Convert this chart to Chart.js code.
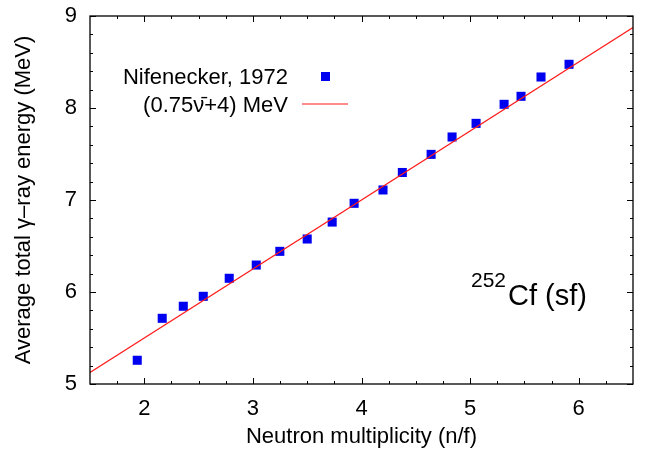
<!DOCTYPE html>
<html>
<head>
<meta charset="utf-8">
<script src="https://cdn.jsdelivr.net/npm/chart.js@4.4.1/dist/chart.umd.min.js"></script>
<style>
html,body{margin:0;padding:0;background:#fff;}
#wrap{width:648px;height:451px;}
</style>
</head>
<body>
<div id="wrap"><canvas id="c" width="648" height="451"></canvas></div>
<script>
// ---- data ----
const nuValues = [1.935, 2.165, 2.359, 2.543, 2.782, 3.031, 3.248, 3.500, 3.730, 3.932, 4.198, 4.376, 4.641, 4.834, 5.055, 5.313, 5.469, 5.653, 5.911];
const egValues = [5.258, 5.714, 5.845, 5.953, 6.149, 6.293, 6.442, 6.576, 6.760, 6.964, 7.109, 7.299, 7.496, 7.685, 7.833, 8.040, 8.127, 8.337, 8.475];
const fitX = [1.5, 6.5];
const fitY = [5.125, 8.875];
const xMajorTicks = [2, 3, 4, 5, 6];
const xMinorTicks = [1.75, 2.25, 2.5, 2.75, 3.25, 3.5, 3.75, 4.25, 4.5, 4.75, 5.25, 5.5, 5.75, 6.25];
const yMajorTicks = [5, 6, 7, 8, 9];
const yMinorTicks = [5.2, 5.4, 5.6, 5.8, 6.2, 6.4, 6.6, 6.8, 7.2, 7.4, 7.6, 7.8, 8.2, 8.4, 8.6, 8.8];
const seriesLabels = ['Nifenecker, 1972', '(0.75\u03BD\u0304+4) MeV'];
const xTitle = 'Neutron multiplicity (n/f)';
const yTitle = 'Average total \u03B3\u2013ray energy (MeV)';
const noteSup = '252';
const noteMain = 'Cf (sf)';

const FONT = '"Liberation Sans", Arial, Helvetica, sans-serif';
const BLUE = '#0000f0';
const RED = '#ff1a1a';

const framePlugin = {
  id: 'frameTicks',
  afterDatasetsDraw(chart) {
    const {ctx, chartArea: a, scales: {x, y}} = chart;
    ctx.save();
    ctx.strokeStyle = '#000';
    ctx.lineWidth = 1;
    const tick = (vals, len) => {
      vals.forEach(v => {
        const px = Math.round(x.getPixelForValue(v)) + 0.5;
        ctx.beginPath();
        ctx.moveTo(px, a.bottom); ctx.lineTo(px, a.bottom - len);
        ctx.moveTo(px, a.top); ctx.lineTo(px, a.top + len);
        ctx.stroke();
      });
    };
    const tickY = (vals, len) => {
      vals.forEach(v => {
        const py = Math.round(y.getPixelForValue(v)) + 0.5;
        ctx.beginPath();
        ctx.moveTo(a.left, py); ctx.lineTo(a.left + len, py);
        ctx.moveTo(a.right, py); ctx.lineTo(a.right - len, py);
        ctx.stroke();
      });
    };
    tick(xMajorTicks, 6); tick(xMinorTicks, 3);
    tickY(yMajorTicks, 6); tickY(yMinorTicks, 3);
    ctx.lineWidth = 1.3;
    ctx.strokeRect(a.left, a.top, a.right - a.left, a.bottom - a.top);

    // legend
    ctx.fillStyle = '#000';
    ctx.font = '22px ' + FONT;
    ctx.textAlign = 'right';
    ctx.textBaseline = 'alphabetic';
    ctx.fillText(seriesLabels[0], 288, 84);
    ctx.fillText(seriesLabels[1], 288, 112);
    ctx.fillStyle = BLUE;
    ctx.fillRect(321, 72, 9, 9);
    ctx.strokeStyle = RED;
    ctx.lineWidth = 1.2;
    ctx.beginPath();
    ctx.moveTo(302, 104); ctx.lineTo(348, 104);
    ctx.stroke();

    // annotation
    ctx.fillStyle = '#000';
    ctx.textAlign = 'left';
    ctx.font = '21px ' + FONT;
    ctx.fillText(noteSup, 471, 287);
    ctx.font = '29px ' + FONT;
    ctx.fillText(noteMain, 508, 305);
    ctx.restore();
  }
};

new Chart(document.getElementById('c'), {
  data: {
    datasets: [
      {
        type: 'line',
        label: seriesLabels[1],
        data: fitX.map((v, i) => ({x: v, y: fitY[i]})),
        borderColor: RED,
        borderWidth: 1.2,
        pointRadius: 0,
        fill: false
      },
      {
        type: 'scatter',
        label: seriesLabels[0],
        data: nuValues.map((v, i) => ({x: v, y: egValues[i]})),
        pointStyle: 'rect',
        pointRadius: 6.4,
        pointHoverRadius: 6.4,
        backgroundColor: BLUE,
        borderColor: BLUE,
        borderWidth: 0
      }
    ]
  },
  options: {
    responsive: false,
    animation: false,
    devicePixelRatio: 1,
    layout: {padding: {top: 16, right: 15, left: 0, bottom: 0}},
    plugins: {legend: {display: false}, tooltip: {enabled: false}},
    scales: {
      x: {
        type: 'linear',
        min: 1.5, max: 6.5,
        afterBuildTicks: s => { s.ticks = xMajorTicks.map(v => ({value: v})); },
        afterFit: s => { s.height = 67; s.paddingLeft = 0; s.paddingRight = 0; },
        grid: {display: false, drawTicks: false},
        border: {display: false},
        ticks: {color: '#000', font: {family: FONT, size: 22}, padding: 12, maxRotation: 0, autoSkip: false},
        title: {display: true, text: xTitle, color: '#000', font: {family: FONT, size: 22}, padding: {top: 0, bottom: 1}}
      },
      y: {
        type: 'linear',
        min: 5, max: 9,
        afterBuildTicks: s => { s.ticks = yMajorTicks.map(v => ({value: v})); },
        afterFit: s => { s.width = 90; s.paddingTop = 0; s.paddingBottom = 0; },
        grid: {display: false, drawTicks: false},
        border: {display: false},
        ticks: {color: '#000', font: {family: FONT, size: 22}, padding: 13},
        title: {display: true, text: yTitle, color: '#000', font: {family: FONT, size: 22}, padding: {top: 11, bottom: 0}}
      }
    }
  },
  plugins: [framePlugin]
});
</script>
</body>
</html>
